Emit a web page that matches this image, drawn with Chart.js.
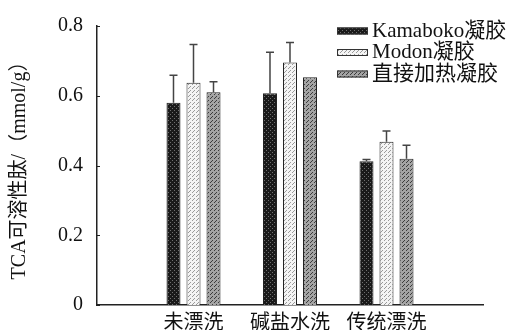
<!DOCTYPE html>
<html>
<head>
<meta charset="utf-8">
<script src="https://cdn.jsdelivr.net/npm/chart.js@4.4.1/dist/chart.umd.min.js"></script>
<style>
  html, body { margin: 0; padding: 0; background: #fff; }
  #wrap { width: 507px; height: 331px; }
</style>
</head>
<body>
<div id="wrap"><canvas id="grafico"></canvas></div>
<script>
// categorias (as pontas vazias deixam a margem dos dois lados)
const categorias = ['', '未漂洗', '碱盐水洗', '传统漂洗', ''];
const series = ['Kamaboko凝胶', 'Modon凝胶', '直接加热凝胶'];

const kamaboko = [null, 0.580, 0.607, 0.412, null];
const modon    = [null, 0.637, 0.695, 0.468, null];
const direto   = [null, 0.610, 0.653, 0.419, null];

// desvio (só a parte de cima aparece)
const errKamaboko = [null, 0.079, 0.118, 0.005, null];
const errModon    = [null, 0.110, 0.058, 0.031, null];
const errDireto   = [null, 0.030, 0, 0.039, null];

const yTicks = ['0', '0.2', '0.4', '0.6', '0.8'];

Chart.defaults.font.family = '"Liberation Serif", "Noto Sans CJK SC", serif';
Chart.defaults.color = '#111';

// padrões pontilhados das barras
function padrao(fundo, ponto, pontos) {
    const c = document.createElement('canvas');
    c.width = 4; c.height = 4;
    const g = c.getContext('2d');
    g.fillStyle = fundo;
    g.fillRect(0, 0, 4, 4);
    g.fillStyle = ponto;
    pontos.forEach(p => g.fillRect(p[0], p[1], 1, 1));
    return g.createPattern(c, 'repeat');
}
const ctx = document.getElementById('grafico').getContext('2d');
const fundos = [
    padrao('#1a1a1a', '#707070', [[0, 0], [2, 2]]),
    padrao('#f4f4f4', '#9a9a9a', [[0, 0], [2, 2], [1, 3]]),
    padrao('#a4a4a4', '#3c3c3c', [[0, 0], [2, 2], [3, 1]])
];
const erros = [errKamaboko, errModon, errDireto];

// barras de erro + tracinhos do eixo y
const extras = {
    id: 'extras',
    afterDatasetsDraw(chart) {
        const g = chart.ctx;
        const y = chart.scales.y;
        g.save();
        g.strokeStyle = '#444';
        g.lineWidth = 1.5;
        chart.data.datasets.forEach((ds, i) => {
            const meta = chart.getDatasetMeta(i);
            meta.data.forEach((el, j) => {
                const e = erros[i][j];
                if (ds.data[j] == null || !e) return;
                const topo = y.getPixelForValue(ds.data[j] + e);
                g.beginPath();
                g.moveTo(el.x, el.y);
                g.lineTo(el.x, topo);
                g.moveTo(el.x - 4, topo);
                g.lineTo(el.x + 4, topo);
                g.stroke();
            });
        });
        // ticks pra dentro
        g.strokeStyle = '#222';
        g.lineWidth = 1;
        y.ticks.forEach(t => {
            const py = Math.round(y.getPixelForValue(t.value)) + 0.5;
            g.beginPath();
            g.moveTo(chart.chartArea.left, py);
            g.lineTo(chart.chartArea.left + 3, py);
            g.stroke();
        });
        g.restore();
    },
    afterDraw(chart) {
        // legenda no canto
        const g = chart.ctx;
        g.save();
        g.font = '21px "Liberation Serif", "Noto Sans CJK SC", serif';
        g.textBaseline = 'middle';
        chart.data.datasets.forEach((ds, i) => {
            const cy = 31 + i * 21.5;
            g.fillStyle = ds.backgroundColor;
            g.fillRect(337, cy - 3.5, 31, 7);
            g.strokeStyle = '#333';
            g.lineWidth = 1;
            g.strokeRect(337.5, cy - 3, 30, 6);
            g.fillStyle = '#111';
            g.fillText(ds.label, 372, cy);
        });
        g.restore();
    }
};

new Chart(ctx, {
    type: 'bar',
    data: {
        labels: categorias,
        datasets: [kamaboko, modon, direto].map((d, i) => ({
            label: series[i],
            data: d,
            backgroundColor: fundos[i],
            borderColor: '#222',
            borderWidth: 1,
            categoryPercentage: 0.622,
            barPercentage: 0.7
        }))
    },
    options: {
        responsive: true,
        maintainAspectRatio: false,
        animation: false,
        devicePixelRatio: 1,
        layout: { padding: { top: 22, right: 24, left: 0, bottom: 0 } },
        plugins: {
            legend: { display: false },
            tooltip: { enabled: false }
        },
        scales: {
            x: {
                offset: false,
                grid: { display: false, drawTicks: false },
                border: { display: true, color: '#222', width: 1.5 },
                ticks: {
                    autoSkip: false,
                    maxRotation: 0,
                    padding: 4,
                    font: { size: 20, family: '"Noto Sans CJK SC", sans-serif' },
                    color: '#111'
                },
                afterFit: s => { s.height = 25; }
            },
            y: {
                min: 0,
                max: 0.8,
                grid: { display: false, drawTicks: false },
                border: { display: true, color: '#222', width: 1.5 },
                ticks: {
                    stepSize: 0.2,
                    padding: 14,
                    font: { size: 20 },
                    callback: (v, i) => yTicks[i]
                },
                title: {
                    display: true,
                    text: 'TCA可溶性肽/（mmol/g）',
                    font: { size: 20 },
                    padding: { top: 8, bottom: 0 }
                },
                afterFit: s => { s.width = 97; }
            }
        }
    },
    plugins: [extras]
});
</script>
</body>
</html>
